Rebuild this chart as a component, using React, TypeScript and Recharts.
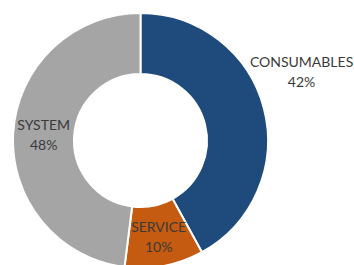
import { PieChart, Pie, Cell } from 'recharts';

const segments = ['CONSUMABLES', 'SERVICE', 'SYSTEM'];
const shares = [42, 10, 48];
const colors = ['#1F4A7C', '#C55A11', '#A5A5A5'];

const data = segments.map((name, i) => ({ name, value: shares[i] }));

const RAD = Math.PI / 180;

// Excel puts the big slice's label outside, the others sit in the ring
function renderLabel(props: any) {
  const { cx, cy, midAngle, innerRadius, outerRadius, index, name, value } = props;
  let r = (innerRadius + outerRadius) / 2;
  let a = midAngle;
  if (index === 0) {
    r = outerRadius + 48;
    a = midAngle + 9;
  }
  const x = cx + r * Math.cos(-a * RAD);
  const y = cy + r * Math.sin(-a * RAD);
  return (
    <text
      x={x}
      y={y}
      textAnchor="middle"
      fill="#3a3a3a"
      fontSize={14}
      fontFamily="Lato, sans-serif"
    >
      <tspan x={x} dy={-4}>{name}</tspan>
      <tspan x={x} dy={20}>{value}%</tspan>
    </text>
  );
}

export default function App() {
  return (
    <div style={{ position: 'absolute', left: 0, top: 0, width: 354, height: 265, overflow: 'hidden', background: '#fff' }}>
      <PieChart width={354} height={265} margin={{ top: 0, right: 0, bottom: 0, left: 0 }}>
        <Pie
          data={data}
          dataKey="value"
          nameKey="name"
          cx={140.5}
          cy={140.5}
          innerRadius={66.5}
          outerRadius={127.5}
          startAngle={90}
          endAngle={-270}
          stroke="#fff"
          strokeWidth={2}
          label={renderLabel}
          labelLine={false}
          isAnimationActive={false}
        >
          {data.map((d, i) => (
            <Cell key={d.name} fill={colors[i]} />
          ))}
        </Pie>
      </PieChart>
    </div>
  );
}
